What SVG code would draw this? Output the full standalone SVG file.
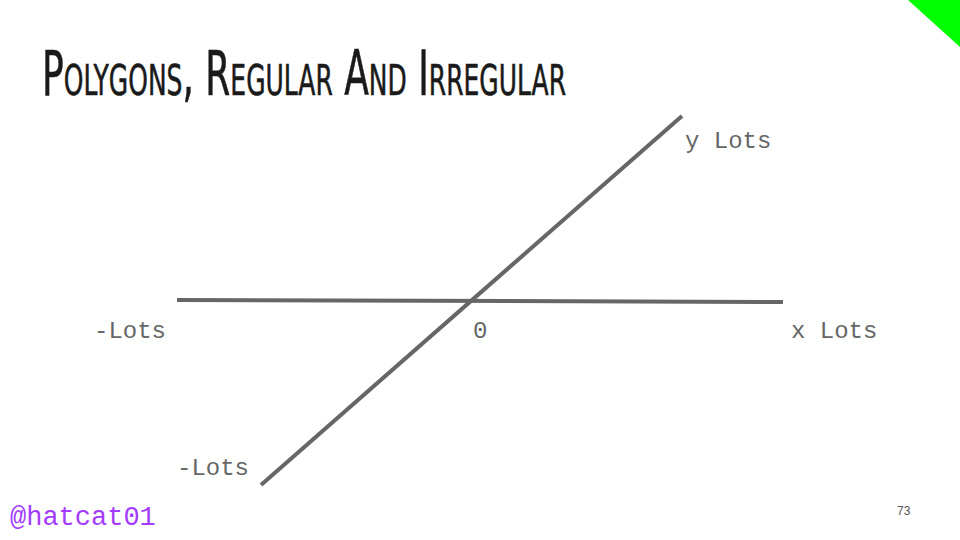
<svg xmlns="http://www.w3.org/2000/svg" width="960" height="540" viewBox="0 0 960 540">
<style>
.axis{stroke:#666;stroke-width:4;fill:none;stroke-linecap:butt}
.lbl{font-family:"Liberation Mono","DejaVu Sans Mono",monospace;font-size:24px;fill:#666}
</style>
<rect width="960" height="540" fill="#fff"/>
<polygon points="908,0 960,0 960,47" fill="#00ff00"/>
<text x="42" y="95" font-family="'DejaVu Sans Condensed','DejaVu Sans',sans-serif" font-weight="normal" font-size="62" font-variant="small-caps" fill="#1a1a1a" stroke="#1a1a1a" stroke-width="0.6" textLength="524" lengthAdjust="spacingAndGlyphs">Polygons, Regular And Irregular</text>
<g id="connectors">
<line class="axis" x1="177" y1="300" x2="783" y2="302"/>
<line class="axis" x1="261" y1="485" x2="682" y2="116"/>
</g>
<g id="label-neg-x"><text class="lbl" x="94" y="338">-Lots</text></g>
<g id="label-zero"><text class="lbl" x="473" y="338">0</text></g>
<g id="label-x"><text class="lbl" x="791" y="338">x Lots</text></g>
<g id="label-y"><text class="lbl" x="685" y="148">y Lots</text></g>
<g id="label-neg-y"><text class="lbl" x="177" y="475">-Lots</text></g>
<text x="10" y="525" font-family="'Liberation Mono',monospace" font-size="27" fill="#a33cff">@hatcat01</text>
<text x="897" y="515" font-family="'Liberation Sans',sans-serif" font-size="12" fill="#555">73</text>
</svg>
